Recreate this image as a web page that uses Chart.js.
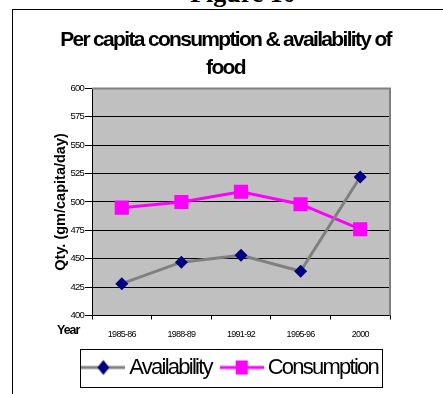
<!DOCTYPE html>
<html>
<head>
<meta charset="utf-8">
<script src="https://cdn.jsdelivr.net/npm/chart.js@4.4.1/dist/chart.umd.min.js"></script>
<style>
  html, body { margin: 0; padding: 0; background: #fff; overflow: hidden; }
  #wrap { position: relative; width: 443px; height: 394px; }
  #fig {
    position: absolute; left: 243px; top: -19px; transform: translateX(-50%);
    font: bold 26px/26px "Liberation Serif", "Times New Roman", serif; white-space: nowrap;
  }
  #frame {
    position: absolute; left: 12px; top: 9px; right: 0; bottom: 0;
    border-left: 1px solid #000; border-top: 1px solid #000;
  }
  canvas { position: absolute; left: 0; top: 0; }
</style>
</head>
<body>
<div id="wrap">
  <div id="fig">Figure 10</div>
  <div id="frame"></div>
  <canvas id="chart" width="443" height="394"></canvas>
</div>
<script>
// data
const years = ["1985-86", "1988-89", "1991-92", "1995-96", "2000"];
const availability = [428, 447, 453, 439, 522];
const consumption = [495, 500, 509, 498, 476];
const yTicks = [400, 425, 450, 475, 500, 525, 550, 575, 600];

// "Arial" = excel's squeezed text (tight letter spacing), Liberation Sans = normal
const TIGHT = "Arial, 'Liberation Sans', sans-serif";
const NORMAL = "'Liberation Sans', sans-serif";
const SQUEEZE = 0.08; // em

Chart.defaults.font.family = TIGHT;
Chart.defaults.color = "#000";

const canvas = document.getElementById("chart");
const ctx = canvas.getContext("2d");

// no narrow font installed, so tighten the letters of the "Arial" texts instead
(function () {
  const fill = ctx.fillText.bind(ctx);
  const measure = ctx.measureText.bind(ctx);
  const tight = () => ctx.font.indexOf("Arial") >= 0;
  const px = () => {
    const m = /([\d.]+)px/.exec(ctx.font);
    return m ? +m[1] : 12;
  };
  ctx.fillText = function (t, x, y, w) {
    if (!tight()) return w === undefined ? fill(t, x, y) : fill(t, x, y, w);
    const old = ctx.letterSpacing;
    ctx.letterSpacing = (-SQUEEZE * px()).toFixed(2) + "px";
    if (w === undefined) fill(t, x, y); else fill(t, x, y, w);
    ctx.letterSpacing = old;
  };
  ctx.measureText = function (t) {
    const m = measure(t);
    if (!tight()) return m;
    return {
      width: m.width - SQUEEZE * px() * String(t).length,
      actualBoundingBoxAscent: m.actualBoundingBoxAscent,
      actualBoundingBoxDescent: m.actualBoundingBoxDescent
    };
  };
})();

// legend symbols: line with marker, like excel draws them
function legendIcon(lineColor, marker) {
  const c = document.createElement("canvas");
  c.width = 44;
  c.height = 22;
  const g = c.getContext("2d");
  g.strokeStyle = lineColor;
  g.lineWidth = 3;
  g.beginPath();
  g.moveTo(0, 11);
  g.lineTo(44, 11);
  g.stroke();
  if (marker === "diamond") {
    g.fillStyle = "#000080";
    g.beginPath();
    g.moveTo(22, 3.5);
    g.lineTo(28, 11);
    g.lineTo(22, 18.5);
    g.lineTo(16, 11);
    g.closePath();
    g.fill();
  } else {
    g.fillStyle = "#ff00ff";
    g.fillRect(16, 4, 12, 14);
  }
  return c;
}
const icons = [legendIcon("#808080", "diamond"), legendIcon("#ff00ff", "square")];

const plotBg = {
  id: "plotBg",
  beforeDraw(chart) {
    const a = chart.chartArea, c = chart.ctx;
    c.save();
    c.fillStyle = "#c0c0c0";
    c.fillRect(a.left, a.top, a.right - a.left, a.bottom - a.top);
    c.restore();
  },
  beforeDatasetsDraw(chart) {
    const a = chart.chartArea, c = chart.ctx;
    c.save();
    c.strokeStyle = "#808080";
    c.lineWidth = 2;
    c.beginPath();
    c.moveTo(a.left, a.top);
    c.lineTo(a.right, a.top);
    c.lineTo(a.right, a.bottom);
    c.stroke();
    c.restore();
  },
  afterDraw(chart) {
    const a = chart.chartArea, c = chart.ctx;
    c.save();
    // "Year" label left of the category axis
    c.font = "bold 12.5px " + TIGHT;
    c.fillStyle = "#000";
    c.textAlign = "left";
    c.textBaseline = "alphabetic";
    c.fillText("Year", a.left - 35, a.bottom + 18);
    // legend frame
    const hb = chart.legend.legendHitBoxes;
    if (hb && hb.length) {
      const cy = hb[0].top + hb[0].height / 2;
      const l = hb[0].left - 8;
      const r = hb[hb.length - 1].left + hb[hb.length - 1].width + 4;
      c.strokeStyle = "#000";
      c.lineWidth = 1;
      c.strokeRect(Math.round(l) + 0.5, Math.round(cy - 19) + 0.5, Math.round(r - l), 38);
    }
    c.restore();
  }
};

new Chart(ctx, {
  type: "line",
  data: {
    labels: years,
    datasets: [
      {
        label: "Availability",
        data: availability,
        borderColor: "#808080",
        borderWidth: 3,
        pointStyle: "rectRot",
        pointRadius: 6.5,
        pointBackgroundColor: "#000080",
        pointBorderColor: "#000080",
        pointBorderWidth: 0,
        tension: 0
      },
      {
        label: "Consumption",
        data: consumption,
        borderColor: "#ff00ff",
        borderWidth: 3,
        pointStyle: "rect",
        pointRadius: 10,
        pointBackgroundColor: "#ff00ff",
        pointBorderColor: "#ff00ff",
        pointBorderWidth: 0,
        tension: 0
      }
    ]
  },
  options: {
    responsive: false,
    animation: false,
    layout: { padding: { left: 58, right: 50, top: 9, bottom: 5.5 } },
    plugins: {
      tooltip: { enabled: false },
      title: {
        display: true,
        text: ["Per capita consumption & availability of", "food"],
        font: { family: TIGHT, size: 21, weight: "bold", lineHeight: 1.32 },
        color: "#000",
        padding: { top: 17.5, bottom: 6.5 }
      },
      legend: {
        position: "bottom",
        align: "end",
        labels: {
          usePointStyle: true,
          pointStyleWidth: 30,
          padding: 15,
          color: "#000",
          font: { family: TIGHT, size: 22 },
          generateLabels(chart) {
            const items = Chart.defaults.plugins.legend.labels.generateLabels(chart);
            items.forEach((it, i) => { it.pointStyle = icons[i]; });
            return items;
          }
        }
      }
    },
    scales: {
      x: {
        type: "category",
        offset: true,
        afterFit(s) { s.height = 26; },
        grid: { offset: true, drawOnChartArea: false, drawTicks: true, tickLength: 4, color: "#000" },
        border: { color: "#000", width: 1 },
        ticks: { padding: 10, maxRotation: 0, autoSkip: false, font: { family: TIGHT, size: 9 }, color: "#000" }
      },
      y: {
        min: 400,
        max: 600,
        afterFit(s) { s.width = 34; },
        afterBuildTicks(s) { s.ticks = yTicks.map(v => ({ value: v })); },
        grid: { color: "#000", lineWidth: 1, tickLength: 7 },
        border: { color: "#000", width: 1 },
        ticks: { padding: 1, font: { family: TIGHT, size: 9.5 }, color: "#000" },
        title: {
          display: true,
          text: "Qty. (gm/capita/day)",
          font: { family: NORMAL, size: 14.5, weight: "bold" },
          color: "#000",
          padding: { top: -6, bottom: 0 }
        }
      },
      // keeps the plot's right edge where the picture has it
      y2: {
        position: "right",
        display: true,
        afterFit(s) { s.width = 3; },
        grid: { display: false },
        border: { display: false },
        ticks: { display: false }
      }
    }
  },
  plugins: [plotBg]
});
</script>
</body>
</html>
